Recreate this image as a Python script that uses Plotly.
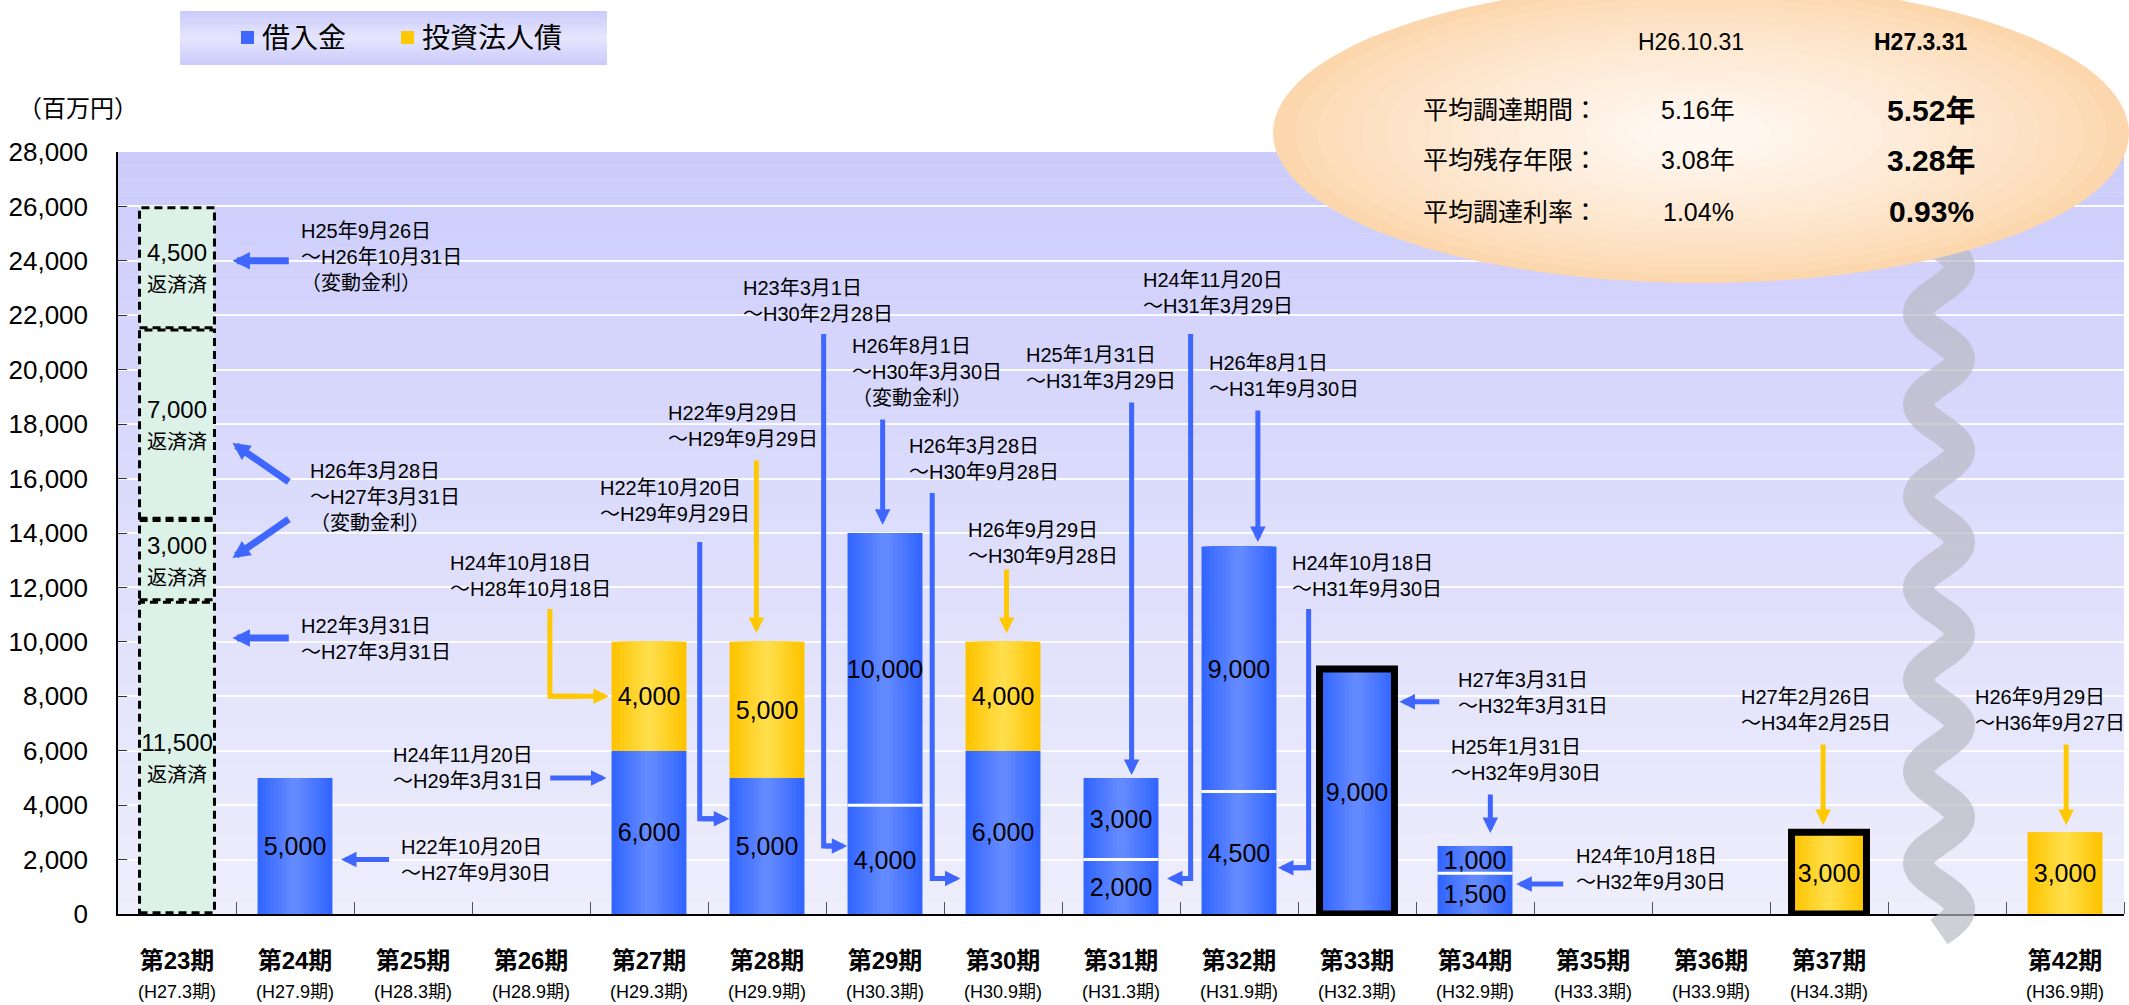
import math
import plotly.graph_objects as go

# ---------------- data ----------------
periods = ["第23期", "第24期", "第25期", "第26期", "第27期", "第28期", "第29期", "第30期",
           "第31期", "第32期", "第33期", "第34期", "第35期", "第36期", "第37期", "第42期"]
fiscal_terms = ["(H27.3期)", "(H27.9期)", "(H28.3期)", "(H28.9期)", "(H29.3期)", "(H29.9期)",
                "(H30.3期)", "(H30.9期)", "(H31.3期)", "(H31.9期)", "(H32.3期)", "(H32.9期)",
                "(H33.3期)", "(H33.9期)", "(H34.3期)", "(H36.9期)"]
slot_index = [0, 1, 2, 3, 4, 5, 6, 7, 8, 9, 10, 11, 12, 13, 14, 16]   # slot 15 = omitted periods

loans_first = [0, 5000, 0, 0, 6000, 5000, 4000, 6000, 2000, 4500, 9000, 1500, 0, 0, 0, 0]
loans_second = [0, 0, 0, 0, 0, 0, 10000, 0, 3000, 9000, 0, 1000, 0, 0, 0, 0]
bonds = [0, 0, 0, 0, 4000, 5000, 0, 4000, 0, 0, 0, 0, 0, 0, 3000, 3000]
new_this_period = ["第33期", "第37期"]

repaid_period = "第23期"
repaid_amounts = [11500, 3000, 7000, 4500]

avg_dates = ["H26.10.31", "H27.3.31"]
avg_rows = ["平均調達期間：", "平均残存年限：", "平均調達利率："]
avg_prev = ["5.16年", "3.08年", "1.04%"]
avg_curr = ["5.52年", "3.28年", "0.93%"]

# notes: (text, x, y) in data units
notes = [
    ("H25年9月26日<br>～H26年10月31日<br>（変動金利）", 1.03, 24140),
    ("H26年3月28日<br>～H27年3月31日<br>（変動金利）", 1.11, 15320),
    ("H22年3月31日<br>～H27年3月31日", 1.03, 10100),
    ("H22年10月20日<br>～H27年9月30日", 1.88, 2000),
    ("H24年11月20日<br>～H29年3月31日", 1.81, 5360),
    ("H24年10月18日<br>～H28年10月18日", 2.30, 12420),
    ("H22年9月29日<br>～H29年9月29日", 4.14, 17930),
    ("H22年10月20日<br>～H29年9月29日", 3.57, 15180),
    ("H23年3月1日<br>～H30年2月28日", 4.78, 22540),
    ("H26年8月1日<br>～H30年3月30日<br>（変動金利）", 5.70, 19920),
    ("H26年3月28日<br>～H30年9月28日", 6.19, 16720),
    ("H26年9月29日<br>～H30年9月28日", 6.69, 13630),
    ("H25年1月31日<br>～H31年3月29日", 7.18, 20080),
    ("H24年11月20日<br>～H31年3月29日", 8.17, 22820),
    ("H26年8月1日<br>～H31年9月30日", 8.73, 19770),
    ("H24年10月18日<br>～H31年9月30日", 9.43, 12420),
    ("H27年3月31日<br>～H32年3月31日", 10.84, 8120),
    ("H25年1月31日<br>～H32年9月30日", 10.78, 5660),
    ("H24年10月18日<br>～H32年9月30日", 11.84, 1670),
    ("H27年2月26日<br>～H34年2月25日", 13.24, 7510),
    ("H26年9月29日<br>～H36年9月27日", 15.22, 7510),
]

BLUE = "#3f67ff"
YELLOW = "#ffc800"
# straight arrows: (x_tail, y_tail, x_tip, y_tip, color, shaft width)
arrows = [
    (0.96, 24000, 0.47, 24000, BLUE, 7),
    (0.96, 15840, 0.47, 17310, BLUE, 7),
    (0.96, 14550, 0.47, 13080, BLUE, 7),
    (0.96, 10140, 0.47, 10140, BLUE, 7),
    (1.81, 2000, 1.39, 2000, BLUE, 5),
    (3.15, 5000, 3.64, 5000, BLUE, 5),
    (4.91, 16720, 4.91, 10330, YELLOW, 5),
    (5.98, 18230, 5.98, 14300, BLUE, 5),
    (7.03, 12710, 7.03, 10330, YELLOW, 5),
    (8.09, 18850, 8.09, 5110, BLUE, 5),
    (9.16, 18560, 9.16, 13670, BLUE, 5),
    (10.71, 7800, 10.36, 7800, BLUE, 5),
    (11.13, 4450, 11.13, 2980, BLUE, 5),
    (11.76, 1100, 11.35, 1100, BLUE, 5),
    (13.95, 6280, 13.95, 3270, YELLOW, 5),
    (16.01, 6280, 16.01, 3270, YELLOW, 5),
]
# elbow arrows: (x_vertical, y_start, y_turn, x_tip, color)
elbows = [
    (3.16, 11210, 8000, 3.66, YELLOW),
    (4.43, 13670, 3500, 4.68, BLUE),
    (5.48, 21310, 2500, 5.68, BLUE),
    (6.40, 15470, 1300, 6.64, BLUE),
    (8.59, 21310, 1300, 8.39, BLUE),
    (9.59, 11210, 1700, 9.33, BLUE),
]

# ---------------- style ----------------
NARROW = "Liberation Sans Narrow, Arial Narrow, Liberation Sans, Noto Sans CJK JP, sans-serif"
W = 0.635
BLUE_EDGE, BLUE_CENTER = (51, 102, 255), (100, 138, 255)
YEL_EDGE, YEL_CENTER = (255, 196, 0), (255, 222, 74)
MINT = "#dcf1e7"


def lerp(c1, c2, t):
    return "rgb(%d,%d,%d)" % tuple(round(a + (b - a) * t) for a, b in zip(c1, c2))


fig = go.Figure()


def add_series(vals, bases, edge, center, name, n=9):
    xs, ys, bs, txt, lw = [], [], [], [], []
    for i, v in enumerate(vals):
        if v:
            xs.append(slot_index[i])
            ys.append(v)
            bs.append(bases[i])
            txt.append(f"{v:,}")
            lw.append(7 if periods[i] in new_this_period else 0)
    for k in range(n):
        fig.add_trace(go.Bar(x=xs, y=ys, base=bs, width=W * (1 - k / n),
                             marker=dict(color=lerp(edge, center, k / (n - 1)), line=dict(width=0)),
                             hoverinfo="skip", showlegend=False))
    fig.add_trace(go.Bar(x=xs, y=ys, base=bs, width=W, name=name,
                         marker=dict(color="rgba(0,0,0,0)", line=dict(color="black", width=lw)),
                         text=txt, textposition="inside", insidetextanchor="middle",
                         textangle=0, constraintext="none", cliponaxis=False,
                         textfont=dict(family=NARROW, size=25, color="black"),
                         showlegend=False))


zeros = [0] * len(periods)
add_series(loans_first, zeros, BLUE_EDGE, BLUE_CENTER, "借入金")
add_series(loans_second, loans_first, BLUE_EDGE, BLUE_CENTER, "借入金")
bond_base = [a + b for a, b in zip(loans_first, loans_second)]
add_series(bonds, bond_base, YEL_EDGE, YEL_CENTER, "投資法人債")

# repaid (第23期)
rx = slot_index[periods.index(repaid_period)]
r_base = [sum(repaid_amounts[:i]) for i in range(len(repaid_amounts))]
fig.add_trace(go.Bar(
    x=[rx] * len(repaid_amounts), y=repaid_amounts, base=r_base, width=W,
    marker=dict(color=MINT, line=dict(width=0)),
    text=[f"{v:,}<br><span style='font-size:20px'>返済済</span>" for v in repaid_amounts],
    textposition="inside", insidetextanchor="middle", textangle=0, constraintext="none",
    textfont=dict(family=NARROW, size=24, color="black"), showlegend=False, hoverinfo="skip"))

shapes = []
# plot background gradient
NB = 56
for i in range(NB):
    y0 = 28000 * i / NB
    y1 = 28000 * (i + 1) / NB
    shapes.append(dict(type="rect", xref="paper", yref="y", x0=0, x1=1, y0=y0, y1=y1,
                       fillcolor=lerp((238, 238, 252), (204, 204, 252), (i + 0.5) / NB),
                       line=dict(width=0), layer="below"))

# dashed boxes for repaid
for b, v in zip(r_base, repaid_amounts):
    shapes.append(dict(type="rect", xref="x", yref="y", x0=rx - W / 2, x1=rx + W / 2,
                       y0=b + 45, y1=b + v - 45, line=dict(color="black", width=3, dash="8px,5px"),
                       fillcolor="rgba(0,0,0,0)", layer="above"))

# white separators between loan tranches
for i, (a, b) in enumerate(zip(loans_first, loans_second)):
    if a and b:
        x = slot_index[i]
        shapes.append(dict(type="line", xref="x", yref="y", x0=x - W / 2, x1=x + W / 2,
                           y0=a, y1=a, line=dict(color="white", width=3), layer="above"))

# elbow connector paths
for xv, ys, yt, xt, col in elbows:
    xm = xv + (xt - xv) * 0.5
    shapes.append(dict(type="path", xref="x", yref="y",
                       path=f"M{xv},{ys} L{xv},{yt} L{xm},{yt}",
                       line=dict(color=col, width=5), layer="above"))

# paper-pixel helpers for decorations
L_M, R_M, T_M, B_M, FW, FH = 118, 5, 152, 91, 2129, 1005
PW, PH = FW - L_M - R_M, FH - T_M - B_M


def px(x):
    return (x - L_M) / PW


def py(y):
    return (FH - B_M - y) / PH


# wavy break band
pts = []
yy = 245
while yy <= 934:
    xx = 1939 - 21 * math.cos(2 * math.pi * (yy - 313) / 91.7)
    pts.append(f"{px(xx):.5f},{py(yy):.5f}")
    yy += 3
shapes.append(dict(type="path", xref="paper", yref="paper", path="M" + " L".join(pts),
                   line=dict(color="rgba(184,184,194,0.68)", width=30), layer="above"))

# ellipse with radial gradient
cx, cy, ex, ey = px(1701), py(133), 428 / PW, 150 / PH
NE = 18
for i in range(NE):
    s = 1 - 0.94 * i / NE
    t = (i / (NE - 1)) ** 0.75
    shapes.append(dict(type="circle", xref="paper", yref="paper",
                       x0=cx - ex * s, x1=cx + ex * s, y0=cy - ey * s, y1=cy + ey * s,
                       fillcolor=lerp((252, 214, 172), (255, 247, 240), t),
                       line=dict(width=0), layer="above"))

# legend box with gradient
lx0, lx1, ly0, ly1 = px(180), px(607), py(65), py(11)
NL = 8
for i in range(NL):
    s = 1 - i / NL
    ym = (ly0 + ly1) / 2
    hh = (ly1 - ly0) / 2 * s
    shapes.append(dict(type="rect", xref="paper", yref="paper", x0=lx0, x1=lx1,
                       y0=ym - hh, y1=ym + hh,
                       fillcolor=lerp((204, 204, 250), (228, 228, 254), i / (NL - 1)),
                       line=dict(width=0), layer="above"))
shapes.append(dict(type="rect", xref="paper", yref="paper", x0=px(241), x1=px(254), y0=py(44), y1=py(31),
                   fillcolor=BLUE, line=dict(width=0), layer="above"))
shapes.append(dict(type="rect", xref="paper", yref="paper", x0=px(401), x1=px(414), y0=py(44), y1=py(31),
                   fillcolor=YELLOW, line=dict(width=0), layer="above"))

annotations = []


def paper_text(x, y, text, size, xanchor="center", bold=False):
    annotations.append(dict(xref="paper", yref="paper", x=x, y=y,
                            text=f"<b>{text}</b>" if bold else text,
                            showarrow=False, xanchor=xanchor, yanchor="middle",
                            font=dict(family=NARROW, size=size, color="black")))


paper_text(px(260), py(38), "借入金", 28, "left")
paper_text(px(420), py(38), "投資法人債", 28, "left")
paper_text(px(78), py(108), "（百万円）", 24)

# ellipse text
paper_text(px(1691), py(42), avg_dates[0], 23)
paper_text(px(1921), py(42), avg_dates[1], 23, bold=True)
for r, (lab, a, b) in enumerate(zip(avg_rows, avg_prev, avg_curr)):
    yv = py([110, 160, 212][r])
    paper_text(px(1421), yv, lab, 25, "left")
    paper_text(px(1698), yv, a, 25)
    paper_text(px(1931), yv, b, 30, bold=True)

# fiscal term sub labels under period labels
for xi, f in zip(slot_index, fiscal_terms):
    annotations.append(dict(xref="x", yref="paper", x=xi, y=py(992), text=f, showarrow=False,
                            xanchor="center", yanchor="middle",
                            font=dict(family=NARROW, size=18, color="black")))

for t, x, y in notes:
    annotations.append(dict(xref="x", yref="y", x=x, y=y, text=t, showarrow=False,
                            xanchor="left", yanchor="middle", align="left",
                            font=dict(family=NARROW, size=20, color="black")))

for xt, yt, xh, yh, col, w in arrows:
    annotations.append(dict(xref="x", yref="y", axref="x", ayref="y", x=xh, y=yh, ax=xt, ay=yt,
                            text="", showarrow=True, arrowhead=2, arrowsize=0.62 if w == 5 else 0.5,
                            arrowwidth=w, arrowcolor=col, standoff=0))
for xv, ys, yt, xt, col in elbows:
    annotations.append(dict(xref="x", yref="y", axref="x", ayref="y", x=xt, y=yt, ax=xv, ay=yt,
                            text="", showarrow=True, arrowhead=2, arrowsize=0.62,
                            arrowwidth=5, arrowcolor=col, standoff=0))

ticktext = [f"<b>{p}</b>" for p in periods]

fig.update_layout(
    width=FW, height=FH, autosize=False,
    margin=dict(l=L_M, r=R_M, t=T_M, b=B_M),
    barmode="overlay", showlegend=False,
    plot_bgcolor="#e4e4fc", paper_bgcolor="white",
    font=dict(family=NARROW, color="black"),
    shapes=shapes, annotations=annotations,
    xaxis=dict(range=[-0.5, 16.5], tickmode="array", tickvals=slot_index, ticktext=ticktext,
               ticks="", showline=True, linecolor="black", linewidth=2, showgrid=False,
               zeroline=False, ticklabelstandoff=24,
               tickfont=dict(family=NARROW, size=24, color="black"),
               minor=dict(tickmode="array", tickvals=[k + 0.5 for k in range(17)], ticks="inside",
                          ticklen=12, tickcolor="#555", tickwidth=1, showgrid=False)),
    yaxis=dict(range=[0, 28000], tick0=0, dtick=2000, tickformat=",d", ticks="inside", ticklen=9,
               tickcolor="#333", showline=True, linecolor="black", linewidth=1.5,
               gridcolor="rgba(255,255,255,0.9)", gridwidth=1.5, zeroline=False,
               ticklabelstandoff=23, tickfont=dict(family=NARROW, size=26, color="black")),
)

fig.write_html("out.html")
